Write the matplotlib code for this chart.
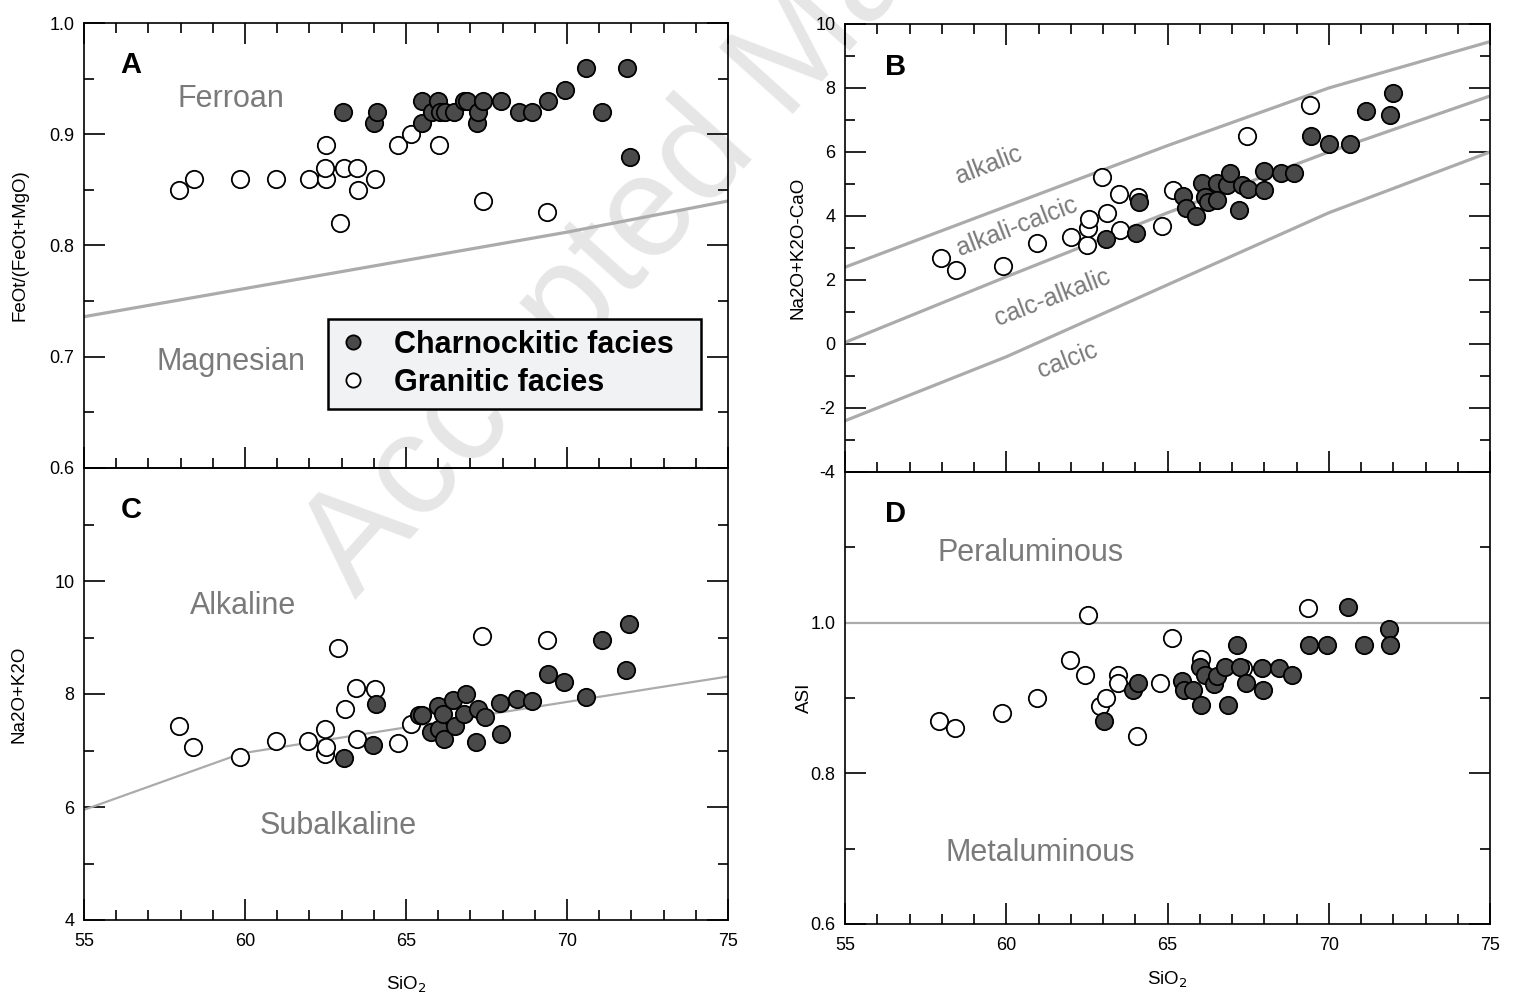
import matplotlib
matplotlib.use("Agg")
import matplotlib.pyplot as plt
from matplotlib.ticker import MultipleLocator, FixedLocator, FuncFormatter

plt.rcParams['font.family'] = ['Liberation Sans', 'DejaVu Sans']
plt.rcParams['axes.unicode_minus'] = False

# ---------------- data ----------------
A_gran_x = [57.94, 58.43, 59.86, 60.95, 61.99, 62.5, 62.47, 62.53, 62.95, 63.07, 63.48, 63.51, 64.05, 64.76, 65.14, 66.04, 67.39, 69.38]
A_gran_y = [0.85, 0.86, 0.86, 0.86, 0.86, 0.86, 0.87, 0.89, 0.82, 0.87, 0.87, 0.85, 0.86, 0.89, 0.90, 0.89, 0.84, 0.83]
A_char_x = [63.05, 64.0, 64.1, 65.5, 65.5, 65.8, 66.0, 66.05, 66.2, 66.5, 66.8, 66.9, 67.2, 67.25, 67.4, 67.95, 68.5, 68.9, 69.4, 69.95, 70.6, 71.1, 71.85, 71.95]
A_char_y = [0.92, 0.91, 0.92, 0.93, 0.91, 0.92, 0.93, 0.92, 0.92, 0.92, 0.93, 0.93, 0.91, 0.92, 0.93, 0.93, 0.92, 0.92, 0.93, 0.94, 0.96, 0.92, 0.96, 0.88]

B_gran_x = [57.97, 58.44, 59.9, 60.96, 62.02, 62.5, 62.55, 62.58, 62.97, 63.12, 63.5, 63.53, 64.09, 64.83, 65.16, 67.45, 69.42]
B_gran_y = [2.69, 2.30, 2.43, 3.17, 3.34, 3.10, 3.63, 3.92, 5.23, 4.08, 4.70, 3.56, 4.59, 3.70, 4.80, 6.49, 7.48]
B_char_x = [63.1, 64.03, 64.13, 65.49, 65.57, 65.87, 66.06, 66.17, 66.25, 66.52, 66.55, 66.85, 66.94, 67.23, 67.3, 67.5, 68.0, 68.0, 68.51, 68.93, 69.46, 70.02, 70.67, 71.15, 71.9, 71.98]
B_char_y = [3.27, 3.48, 4.45, 4.62, 4.26, 4.0, 5.03, 4.59, 4.44, 5.03, 4.49, 4.96, 5.34, 4.18, 4.96, 4.85, 5.4, 4.8, 5.34, 5.34, 6.50, 6.25, 6.25, 7.28, 7.17, 7.85]

C_gran_x = [57.94, 58.4, 59.83, 60.95, 61.97, 62.47, 62.47, 62.53, 62.9, 63.1, 63.45, 63.48, 64.04, 64.76, 65.14, 67.36, 69.38]
C_gran_y = [7.43, 7.07, 6.89, 7.17, 7.17, 7.38, 6.93, 7.07, 8.82, 7.74, 8.11, 7.2, 8.09, 7.14, 7.47, 9.02, 8.96]
C_char_x = [63.06, 63.98, 64.08, 65.39, 65.5, 65.77, 66.0, 66.04, 66.16, 66.19, 66.46, 66.52, 66.8, 66.87, 67.17, 67.24, 67.44, 67.92, 67.95, 68.45, 68.9, 69.4, 69.92, 70.6, 71.08, 71.84, 71.94]
C_char_y = [6.87, 7.1, 7.82, 7.62, 7.62, 7.32, 7.79, 7.38, 7.65, 7.21, 7.9, 7.44, 7.64, 8.0, 7.15, 7.73, 7.59, 7.84, 7.29, 7.91, 7.88, 8.35, 8.21, 7.95, 8.96, 8.43, 9.24]

D_gran_x = [57.91, 58.4, 59.86, 60.95, 61.97, 62.45, 62.53, 62.92, 63.1, 63.45, 63.48, 64.05, 64.76, 65.14, 66.04, 67.35, 69.35]
D_gran_y = [0.87, 0.86, 0.88, 0.90, 0.951, 0.93, 1.01, 0.89, 0.90, 0.931, 0.92, 0.85, 0.92, 0.98, 0.952, 0.94, 1.02]
D_char_x = [63.03, 63.93, 64.08, 65.44, 65.51, 65.78, 66.01, 66.04, 66.16, 66.45, 66.54, 66.79, 66.87, 67.17, 67.24, 67.44, 67.92, 67.95, 68.45, 68.87, 69.4, 69.95, 70.6, 71.08, 71.87, 71.91]
D_char_y = [0.87, 0.91, 0.92, 0.922, 0.911, 0.91, 0.941, 0.891, 0.93, 0.919, 0.929, 0.941, 0.891, 0.97, 0.941, 0.92, 0.94, 0.911, 0.94, 0.93, 0.97, 0.97, 1.021, 0.97, 0.991, 0.97]

# boundary lines
A_line_x = [55, 70, 75]
A_line_y = [0.736, 0.812, 0.840]
B_alk_x = [55, 60, 65, 70, 75]
B_alk_y = [2.4, 4.3, 6.2, 8.0, 9.45]
B_ac_x = [55, 60, 65, 70, 75]
B_ac_y = [0.05, 2.1, 4.1, 6.0, 7.75]
B_ca_x = [55, 60, 70, 75]
B_ca_y = [-2.4, -0.4, 4.1, 6.0]
C_line_x = [55, 59.9, 75]
C_line_y = [5.95, 6.95, 8.31]
D_line_x = [55, 75]
D_line_y = [1.0, 1.0]

x_ticks = [55, 60, 65, 70, 75]

# ---------------- figure ----------------
W, H = 1520, 999
fig = plt.figure(figsize=(W / 100, H / 100), dpi=100)

# watermark
fig.text(356 / W, 1 - 600 / H, "Accepted Manuscript", rotation=48, rotation_mode='anchor',
         ha='left', va='baseline', fontsize=104, color='#e6e6e6', zorder=-10)

def px_axes(l, r, t, b):
    return fig.add_axes([l / W, 1 - b / H, (r - l) / W, (b - t) / H])

axA = px_axes(84, 728, 23, 468)
axC = px_axes(84, 728, 468, 920)
axB = px_axes(845, 1490, 24, 472)
axD = px_axes(845, 1490, 472, 924)

CHAR_FC = '#4a4a4a'
LINE_C = '#ababab'
REG_C = '#7a7a7a'
MS = 12.5

def style(ax, top_ticks):
    ax.set_facecolor('none')
    ax.set_xlim(55, 75)
    ax.xaxis.set_major_locator(FixedLocator(x_ticks))
    ax.xaxis.set_minor_locator(MultipleLocator(1))
    ax.tick_params(which='both', direction='in', width=1.2, labelsize=13,
                   left=True, right=True, bottom=True, top=top_ticks)
    ax.tick_params(which='major', length=15)
    ax.tick_params(which='minor', length=7.5)
    ax.tick_params(axis='x', pad=9)
    ax.tick_params(axis='y', pad=7)
    for s in ax.spines.values():
        s.set_linewidth(1.2)

def pts(ax, gx, gy, cx, cy):
    g, = ax.plot(gx, gy, 'o', ms=MS, mfc='white', mec='black', mew=1.3, zorder=3,
                 label='Granitic facies')
    c, = ax.plot(cx, cy, 'o', ms=MS, mfc=CHAR_FC, mec='black', mew=1.3, zorder=4,
                 label='Charnockitic facies')
    return g, c

def ylab(ax, text, xpx, left_px, width_px):
    ax.set_ylabel(text, fontsize=13.5)
    ax.yaxis.set_label_coords((xpx - left_px) / width_px, 0.5)

# ---- A ----
style(axA, True)
axA.set_ylim(0.6, 1.0)
axA.yaxis.set_major_locator(MultipleLocator(0.1))
axA.yaxis.set_minor_locator(MultipleLocator(0.05))
axA.yaxis.set_major_formatter(FuncFormatter(lambda v, p: f"{v:.1f}"))
axA.tick_params(labelbottom=False)
axA.plot(A_line_x, A_line_y, color=LINE_C, lw=2.3, zorder=2)
g, c = pts(axA, A_gran_x, A_gran_y, A_char_x, A_char_y)
ylab(axA, "FeOt/(FeOt+MgO)", 29, 84, 644)
axA.text(0.057, 0.905, "A", transform=axA.transAxes, fontsize=21, fontweight='bold',
         ha='left', va='center')
axA.text(59.56, 0.932, "Ferroan", fontsize=22, color=REG_C, ha='center', va='center')
axA.text(59.56, 0.695, "Magnesian", fontsize=22, color=REG_C, ha='center', va='center')
leg = axA.legend(handles=[c, g], loc='upper left',
                 bbox_to_anchor=(0.379, 0.117, 0.579, 0.218), mode='expand',
                 prop={'weight': 'bold', 'size': 22}, frameon=True, fancybox=False,
                 framealpha=1, facecolor='#f1f2f4', edgecolor='black', markerscale=0.82,
                 borderpad=0.35, labelspacing=0.28, handlelength=0.92, handletextpad=0.88,
                 borderaxespad=0)
leg.get_frame().set_linewidth(1.8)
leg.set_zorder(10)

# ---- C ----
style(axC, False)
axC.set_ylim(4, 12)
axC.yaxis.set_major_locator(FixedLocator([4, 6, 8, 10, 12]))
axC.yaxis.set_minor_locator(MultipleLocator(1))
axC.yaxis.set_major_formatter(FuncFormatter(lambda v, p: "" if v > 11 else f"{v:.0f}"))
axC.plot(C_line_x, C_line_y, color=LINE_C, lw=1.6, zorder=2)
pts(axC, C_gran_x, C_gran_y, C_char_x, C_char_y)
ylab(axC, "Na2O+K2O", 28, 84, 644)
axC.set_xlabel("SiO$_2$", fontsize=13.5, labelpad=18)
axC.text(0.057, 0.908, "C", transform=axC.transAxes, fontsize=21, fontweight='bold',
         ha='left', va='center')
axC.text(59.93, 9.56, "Alkaline", fontsize=22, color=REG_C, ha='center', va='center')
axC.text(62.88, 5.66, "Subalkaline", fontsize=22, color=REG_C, ha='center', va='center')

# ---- B ----
style(axB, True)
axB.set_ylim(-4, 10)
axB.yaxis.set_major_locator(MultipleLocator(2))
axB.yaxis.set_minor_locator(MultipleLocator(1))
axB.yaxis.set_major_formatter(FuncFormatter(lambda v, p: f"{v:.0f}"))
axB.tick_params(labelbottom=False)
for lx, ly in [(B_alk_x, B_alk_y), (B_ac_x, B_ac_y), (B_ca_x, B_ca_y)]:
    axB.plot(lx, ly, color=LINE_C, lw=2.3, zorder=2)
pts(axB, B_gran_x, B_gran_y, B_char_x, B_char_y)
ylab(axB, "Na2O+K2O-CaO", 807, 845, 645)
axB.text(0.062, 0.905, "B", transform=axB.transAxes, fontsize=21, fontweight='bold',
         ha='left', va='center')
for txt, tx, ty in [("alkalic", 59.47, 5.59), ("alkali-calcic", 60.33, 3.66),
                    ("calc-alkalic", 61.42, 1.44), ("calcic", 61.91, -0.5)]:
    axB.text(tx, ty, txt, fontsize=18, color=REG_C, ha='center', va='center',
             rotation=21, rotation_mode='anchor')

# ---- D ----
style(axD, False)
axD.set_ylim(0.6, 1.2)
axD.yaxis.set_major_locator(FixedLocator([0.6, 0.8, 1.0, 1.2]))
axD.yaxis.set_minor_locator(FixedLocator([0.7, 0.9, 1.1]))
axD.yaxis.set_major_formatter(FuncFormatter(lambda v, p: "" if v > 1.1 else f"{v:.1f}"))
axD.plot(D_line_x, D_line_y, color=LINE_C, lw=1.6, zorder=2)
pts(axD, D_gran_x, D_gran_y, D_char_x, D_char_y)
ylab(axD, "ASI", 813, 845, 645)
axD.set_xlabel("SiO$_2$", fontsize=13.5, labelpad=12)
axD.text(0.062, 0.908, "D", transform=axD.transAxes, fontsize=21, fontweight='bold',
         ha='left', va='center')
axD.text(60.74, 1.093, "Peraluminous", fontsize=22, color=REG_C, ha='center', va='center')
axD.text(61.05, 0.694, "Metaluminous", fontsize=22, color=REG_C, ha='center', va='center')

fig.savefig("out.png", dpi=100)
